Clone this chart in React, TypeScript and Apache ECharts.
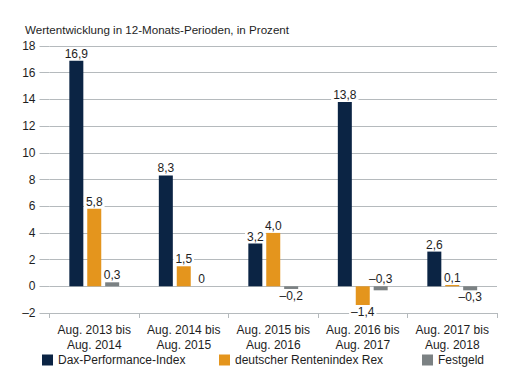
import React, { useEffect, useRef } from "react";
import * as echarts from "echarts";

const title = "Wertentwicklung in 12-Monats-Perioden, in Prozent";
const categories = [
  "Aug. 2013 bis\nAug. 2014",
  "Aug. 2014 bis\nAug. 2015",
  "Aug. 2015 bis\nAug. 2016",
  "Aug. 2016 bis\nAug. 2017",
  "Aug. 2017 bis\nAug. 2018",
];
const seriesNames = ["Dax-Performance-Index", "deutscher Rentenindex Rex", "Festgeld"];
const dax = [16.9, 8.3, 3.2, 13.8, 2.6];
const rex = [5.8, 1.5, 4.0, -1.4, 0.1];
const festgeld = [0.3, 0, -0.2, -0.3, -0.3];
const colors = ["#0b2444", "#e4951d", "#7b8183"];

const FONT = "'Liberation Sans', Arial, sans-serif";
const TEXT = "#1e1e1e";
const GRID = "#b5babd";

const fmt = (v: number) => {
  if (v === 0) return "0";
  const s = Math.abs(v).toFixed(1).replace(".", ",");
  return v < 0 ? "\u2013" + s : s;
};
const fmtInt = (v: number) => (v < 0 ? "\u2013" + Math.abs(v) : String(v));

export default function App() {
  const ref = useRef<HTMLDivElement>(null);
  useEffect(() => {
    document.body.style.margin = "0";
    if (!ref.current) return;
    const chart = echarts.init(ref.current, undefined, { renderer: "svg" });
    const mk = (vals: number[], si: number) =>
      vals.map((v, i) => {
        let pos = v < 0 ? "bottom" : "top";
        if (si === 2 && i === 3) pos = "top";
        return { value: v, label: { position: pos } };
      });
    const allData = [dax, rex, festgeld];
    const legendLefts = [42, 219, 422];
    chart.setOption({
      animation: false,
      textStyle: { fontFamily: FONT },
      title: {
        text: title,
        left: 20,
        top: 18,
        textStyle: { fontSize: 11.6, fontWeight: "normal", color: TEXT, fontFamily: FONT },
      },
      legend: seriesNames.map((n, i) => ({
        data: [n],
        left: legendLefts[i],
        top: 354,
        itemWidth: 11,
        itemHeight: 11,
        itemGap: 0,
        icon: "rect",
        padding: 0,
        textStyle: { fontSize: 12, color: TEXT, fontFamily: FONT },
      })),
      grid: { left: 49.5, right: 21, top: 46, bottom: 72 },
      xAxis: {
        type: "category",
        data: categories,
        axisLine: { onZero: false, lineStyle: { color: GRID } },
        axisTick: { show: true, length: 5, lineStyle: { color: GRID } },
        axisLabel: {
          interval: 0,
          color: TEXT,
          fontSize: 12,
          lineHeight: 15,
          margin: 9,
          fontFamily: FONT,
        },
      },
      yAxis: {
        type: "value",
        min: -2,
        max: 18,
        interval: 2,
        axisLine: { show: false },
        axisTick: { show: true, length: 10, lineStyle: { color: GRID } },
        splitLine: { lineStyle: { color: GRID } },
        axisLabel: {
          color: TEXT,
          fontSize: 12,
          margin: 14,
          fontFamily: FONT,
          formatter: (v: number) => fmtInt(v),
        },
      },
      series: allData.map((d, si) => ({
        type: "bar",
        name: seriesNames[si],
        data: mk(d, si),
        barWidth: 14,
        barGap: "28%",
        itemStyle: { color: colors[si] },
        label: {
          show: true,
          distance: 1,
          color: TEXT,
          fontSize: 12,
          fontFamily: FONT,
          backgroundColor: "#ffffff",
          padding: [0, 2, 0, 2],
          formatter: (p: any) => fmt(p.value),
        },
      })),
    });
    return () => chart.dispose();
  }, []);
  return <div ref={ref} style={{ width: 518, height: 385 }} />;
}
